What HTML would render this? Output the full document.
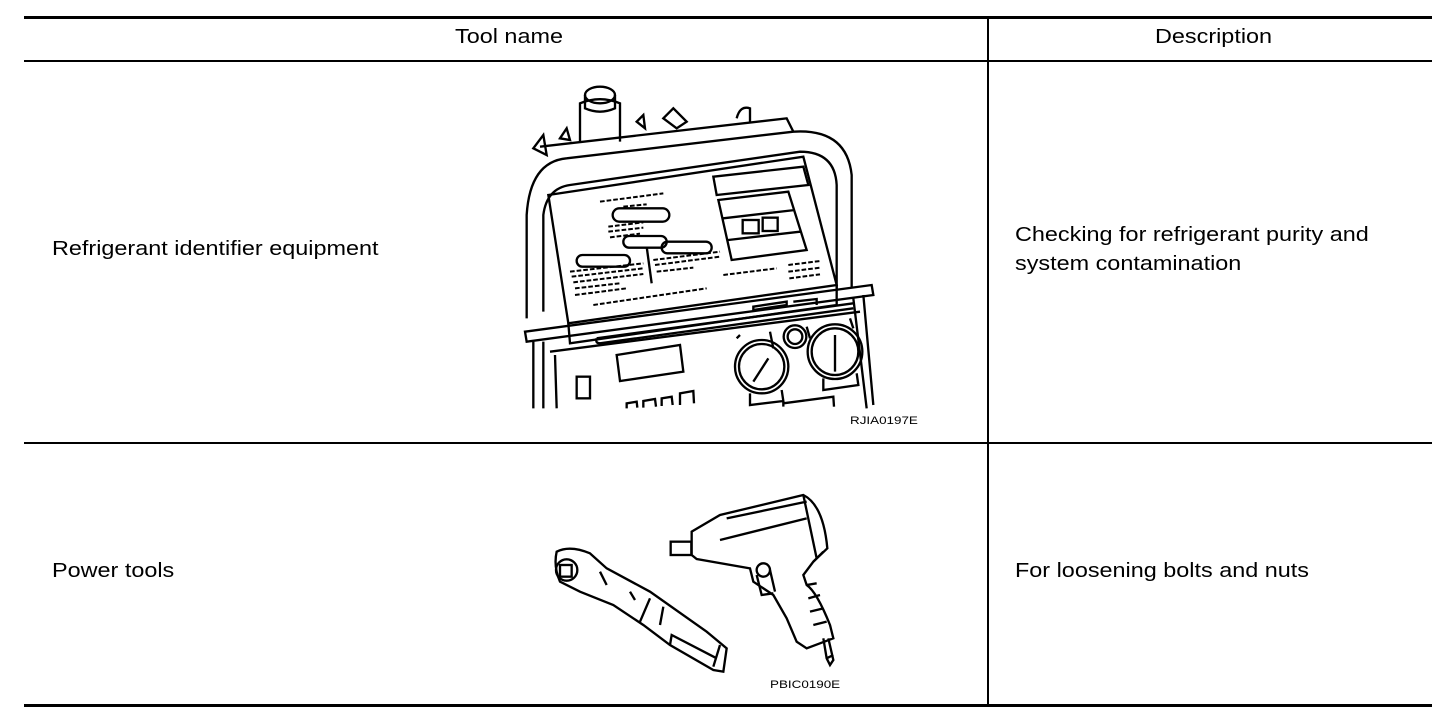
<!DOCTYPE html>
<html><head><meta charset="utf-8"><style>
body{margin:0;background:#fff;width:1456px;height:716px;position:relative;overflow:hidden;font-family:"Liberation Sans",Arial,sans-serif;color:#000}
.l{position:absolute;background:#000}
.t{position:absolute;font-size:20px;line-height:24px;white-space:nowrap;transform:scaleX(1.17);transform-origin:0 0}
.s{position:absolute;font-size:11px;white-space:nowrap;transform:scaleX(1.22);transform-origin:0 0}
svg{position:absolute}
</style></head><body>
<div class="l" style="left:24px;top:16px;width:1408px;height:3px"></div>
<div class="l" style="left:24px;top:60px;width:1408px;height:2px"></div>
<div class="l" style="left:24px;top:442px;width:1408px;height:2px"></div>
<div class="l" style="left:24px;top:704px;width:1408px;height:3px"></div>
<div class="l" style="left:987px;top:17px;width:2px;height:689px"></div>

<div class="t" style="left:455px;top:25px">Tool name</div>
<div class="t" style="left:1155px;top:25px">Description</div>
<div class="t" style="left:52px;top:237px">Refrigerant identifier equipment</div>
<div class="t" style="left:1015px;top:223px">Checking for refrigerant purity and</div>
<div class="t" style="left:1015px;top:252px">system contamination</div>
<div class="t" style="left:52px;top:559px">Power tools</div>
<div class="t" style="left:1015px;top:559px">For loosening bolts and nuts</div>
<div class="s" style="left:850px;top:415px">RJIA0197E</div>
<div class="s" style="left:770px;top:679px">PBIC0190E</div>

<svg style="left:520px;top:75px" width="400" height="335" viewBox="0 0 1200 1005" fill="none" stroke="#000" stroke-width="7">
<path d="M180 200 L180 85 Q240 60 300 85 L300 200"/>
<ellipse cx="240" cy="60" rx="45" ry="25"/><path d="M195 60 L195 100 Q240 120 285 100 L285 60"/>
<path d="M40 220 L70 180 L80 240 Z M120 190 L140 160 L150 195 Z M350 140 L370 120 L375 160 Z M430 130 L460 100 L500 140 L470 160 Z M650 130 Q660 90 690 100 L690 140"/>
<path d="M60 215 L800 130 L820 170"/>
<path d="M20 730 L20 420 Q30 260 140 250 L820 170 Q980 160 995 300 L995 640"/>
<path d="M70 710 L70 420 Q80 340 150 330 L840 230 Q945 230 950 330 L950 640"/>
<path d="M85 360 L850 245 L950 630 L145 745 Z"/>
<path d="M145 745 L150 805 L950 690 L950 630"/>
<path d="M580 305 L850 275 L865 330 L590 360 Z"/>
<path d="M595 375 L805 350 L860 525 L635 555 Z M610 430 L825 405 M625 495 L840 470"/>
<rect x="668" y="435" width="48" height="40"/><rect x="728" y="428" width="45" height="40"/>
<rect x="278" y="400" width="170" height="40" rx="20"/><rect x="170" y="540" width="160" height="35" rx="17"/>
<rect x="310" y="483" width="130" height="35" rx="17"/><rect x="425" y="500" width="150" height="35" rx="17"/>
<path d="M380 515 L395 625"/>
<g stroke-dasharray="14 6" stroke-width="6">
<path d="M240 380 L430 355 M310 395 L380 388 M265 455 L370 442 M265 470 L370 458 M270 487 L360 476 M150 590 L370 565 M155 605 L370 580 M160 622 L370 597 M165 640 L300 625 M165 660 L320 640 M400 555 L600 530 M405 570 L600 545 M410 590 L520 578 M610 600 L770 580 M805 570 L900 558 M805 590 L900 578 M808 610 L900 598 M220 690 L560 640"/>
</g>
<path d="M700 705 L800 690 L800 680 L700 695 Z M820 680 L890 672 L890 690"/>
<path d="M15 770 L1055 630 L1060 660 L20 800 Z"/>
<path d="M40 800 L40 1000 M70 800 L70 1000 M1030 660 L1060 990 M1000 670 L1040 1000"/>
<path d="M90 830 L1020 710 M105 840 L110 1000"/>
<path d="M230 790 L1000 685 M230 790 Q225 805 240 805 L1000 700"/>
<path d="M290 840 L480 810 L490 890 L300 918 Z"/>
<rect x="170" y="905" width="40" height="65"/>
<path d="M320 1000 L320 985 L350 980 L352 998 M370 998 L370 978 L405 972 L408 995 M425 993 L425 970 L455 965 L458 990 M480 990 L480 955 L520 948 L522 985"/>
<path d="M650 790 L660 780 M750 770 L760 820 M860 755 L870 790 M990 730 L1000 760"/>
<circle cx="725" cy="875" r="80"/><circle cx="725" cy="875" r="68"/>
<circle cx="945" cy="830" r="82"/><circle cx="945" cy="830" r="70"/>
<circle cx="825" cy="785" r="34"/><circle cx="825" cy="785" r="22"/>
<path d="M700 920 L745 850 M945 780 L945 890"/>
<path d="M690 955 L690 990 L790 978 L785 945 M910 910 L910 945 L1015 930 L1010 895 M790 995 L790 985 L940 965 L942 995"/>
</svg>

<svg style="left:540px;top:485px" width="320" height="210" viewBox="0 0 960 630" fill="none" stroke="#000" stroke-width="7">
<path d="M455 140 L540 90 L790 30 Q850 60 862 190 L820 230 L790 270 L800 300 Q830 320 870 420 L880 460 L800 490 L770 470 L740 400 L700 330 L640 290 L630 250 L470 222 L455 210 Z"/>
<rect x="392" y="170" width="62" height="40"/>
<path d="M540 165 L800 100 M560 100 L800 50 M790 30 L830 220 M820 230 L850 200"/>
<circle cx="670" cy="255" r="20"/><path d="M650 270 L665 330 L700 325 M690 255 L705 320"/>
<path d="M800 300 L830 295 M805 340 L840 330 M810 380 L850 370 M820 420 L860 410"/>
<path d="M850 460 L860 520 L870 540 L880 525 L865 460 M860 520 L880 510"/>
<path d="M50 200 Q90 180 150 205 L200 250 L330 320 L500 440 L560 490 L550 560 L520 555 L390 480 L310 420 L220 360 L120 320 L60 290 Q40 245 50 200 Z"/>
<circle cx="80" cy="255" r="32"/><rect x="60" y="240" width="35" height="35"/>
<path d="M180 260 L200 300 M270 320 L285 345 M330 340 L300 410 M370 365 L360 420 M390 480 L395 450 L530 520 M540 480 L520 545"/>
</svg>
</body></html>
